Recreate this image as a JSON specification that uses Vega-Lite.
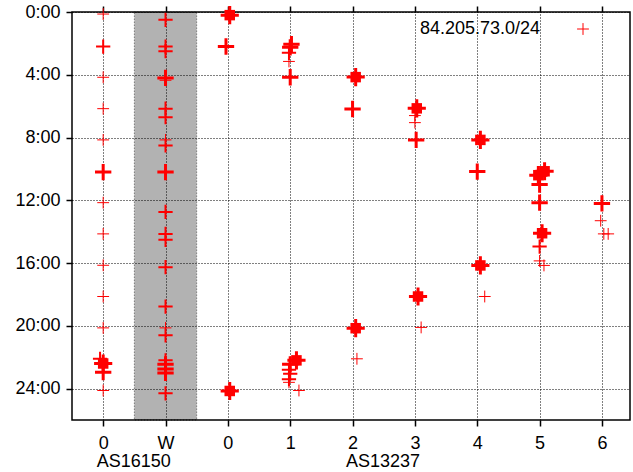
{
 "$schema": "https://vega.github.io/schema/vega-lite/v6.json",
 "width": 558, "height": 408,
 "autosize": "none",
 "padding": {"left": 72, "top": 12, "right": 3, "bottom": 52},
 "background": "#ffffff",
 "config": {
  "font": "Liberation Sans",
  "view": {"stroke": "#000", "strokeWidth": 1.5},
  "axis": {"labelFontSize": 18, "labelColor": "#000", "labelFont": "Liberation Sans", "tickColor": "#000", "tickWidth": 1.5, "tickSize": 6, "gridColor": "#000", "gridDash": [1, 2], "gridWidth": 1, "gridOpacity": 1, "domain": false, "title": null}
 },
 "datasets": {
  "pts": [
   {"col": 0, "hour": 0.13, "n": 1}, {"col": 0, "hour": 2.2, "n": 2}, {"col": 0, "hour": 4.16, "n": 1}, {"col": 0, "hour": 6.16, "n": 1}, {"col": 0, "hour": 8.15, "n": 1}, {"col": 0, "hour": 10.2, "n": 3}, {"col": 0, "hour": 12.15, "n": 1}, {"col": 0, "hour": 14.14, "n": 1}, {"col": 0, "hour": 16.14, "n": 1}, {"col": 0, "hour": 18.13, "n": 1}, {"col": 0, "hour": 20.13, "n": 1}, {"col": -0.05, "hour": 22.1, "n": 2}, {"col": 0, "hour": 22.4, "n": 4}, {"col": 0, "hour": 22.95, "n": 3}, {"col": 0, "hour": 24.12, "n": 1},
   {"col": 1, "hour": 0.5, "n": 2}, {"col": 1, "hour": 2.2, "n": 2}, {"col": 1, "hour": 2.5, "n": 2}, {"col": 1, "hour": 4.2, "n": 3}, {"col": 1, "hour": 4.35, "n": 1}, {"col": 1, "hour": 6.16, "n": 2}, {"col": 1, "hour": 6.7, "n": 2}, {"col": 1, "hour": 8.15, "n": 1}, {"col": 1, "hour": 8.5, "n": 2}, {"col": 1, "hour": 10.2, "n": 3}, {"col": 1, "hour": 12.74, "n": 2}, {"col": 1, "hour": 14.14, "n": 2}, {"col": 1, "hour": 14.52, "n": 2}, {"col": 1, "hour": 16.26, "n": 2}, {"col": 1, "hour": 18.77, "n": 2}, {"col": 1, "hour": 20.13, "n": 1}, {"col": 1, "hour": 20.6, "n": 2}, {"col": 1, "hour": 22.2, "n": 2}, {"col": 1, "hour": 22.45, "n": 3}, {"col": 1, "hour": 22.75, "n": 3}, {"col": 1, "hour": 23.0, "n": 3}, {"col": 1, "hour": 24.3, "n": 2},
   {"col": 2.03, "hour": 0.2, "n": 4}, {"col": 1.97, "hour": 2.2, "n": 3}, {"col": 2.03, "hour": 24.15, "n": 4},
   {"col": 3.02, "hour": 2.05, "n": 3}, {"col": 3.0, "hour": 2.25, "n": 3}, {"col": 2.98, "hour": 2.6, "n": 2}, {"col": 2.98, "hour": 3.15, "n": 1}, {"col": 3.0, "hour": 4.16, "n": 3}, {"col": 3.1, "hour": 22.2, "n": 4}, {"col": 3.0, "hour": 22.45, "n": 3}, {"col": 2.98, "hour": 22.8, "n": 2}, {"col": 3.0, "hour": 23.05, "n": 2}, {"col": 2.98, "hour": 23.4, "n": 2}, {"col": 2.98, "hour": 23.6, "n": 1}, {"col": 3.14, "hour": 24.12, "n": 1},
   {"col": 4.05, "hour": 4.15, "n": 4}, {"col": 4.0, "hour": 6.18, "n": 3}, {"col": 4.05, "hour": 20.15, "n": 4}, {"col": 4.07, "hour": 22.1, "n": 1},
   {"col": 5.03, "hour": 6.14, "n": 4}, {"col": 5.0, "hour": 6.6, "n": 1}, {"col": 5.0, "hour": 7.05, "n": 1}, {"col": 5.02, "hour": 8.15, "n": 3}, {"col": 5.05, "hour": 18.13, "n": 4}, {"col": 5.1, "hour": 20.1, "n": 1},
   {"col": 6.05, "hour": 8.15, "n": 4}, {"col": 6.0, "hour": 10.17, "n": 3}, {"col": 6.05, "hour": 16.15, "n": 4}, {"col": 6.12, "hour": 18.13, "n": 1},
   {"col": 7.08, "hour": 10.15, "n": 4}, {"col": 6.98, "hour": 10.4, "n": 4}, {"col": 7.0, "hour": 11.0, "n": 3}, {"col": 7.0, "hour": 12.15, "n": 3}, {"col": 7.04, "hour": 14.1, "n": 4}, {"col": 7.0, "hour": 14.95, "n": 2}, {"col": 7.0, "hour": 15.86, "n": 1}, {"col": 7.07, "hour": 16.15, "n": 1},
   {"col": 8.0, "hour": 12.2, "n": 3}, {"col": 7.98, "hour": 13.3, "n": 1}, {"col": 8.03, "hour": 14.14, "n": 1}, {"col": 8.1, "hour": 14.14, "n": 1}
  ]
 },
 "resolve": {"axis": {"x": "independent"}},
 "layer": [
  {
   "data": {"values": [{"a": 0.5, "b": 1.5}]},
   "mark": {"type": "rect", "fill": "#000", "fillOpacity": 0.3, "stroke": "#000", "strokeOpacity": 0.6, "strokeDash": [1, 2], "strokeWidth": 1},
   "encoding": {
    "x": {"field": "a", "type": "quantitative", "scale": {"domain": [-0.5, 8.45], "nice": false, "zero": false},
          "axis": {"orient": "top", "values": [0, 1, 2, 3, 4, 5, 6, 7, 8], "labels": false, "grid": false, "ticks": true}},
    "x2": {"field": "b"}
   }
  },
  {
   "data": {"name": "pts"},
   "mark": {"type": "point", "shape": "M-1,0H1M0,-1V1", "filled": false, "opacity": 1},
   "encoding": {
    "x": {"field": "col", "type": "quantitative", "scale": {"domain": [-0.5, 8.45], "nice": false, "zero": false},
          "axis": {"orient": "bottom", "values": [0, 1, 2, 3, 4, 5, 6, 7, 8], "grid": true, "labelOverlap": false, "labelFlush": false, "labelBound": false, "labelPadding": 8,
                   "labelExpr": "datum.value == 0 ? '0' : datum.value == 1 ? 'W' : '' + (datum.value - 2)"}},
    "y": {"field": "hour", "type": "quantitative", "scale": {"domain": [0, 26], "reverse": true, "nice": false, "zero": false},
          "axis": {"values": [0, 4, 8, 12, 16, 20, 24], "labelExpr": "datum.value + ':00'", "grid": true, "labelPadding": 6}},
    "stroke": {"datum": "84.205.73.0/24", "type": "nominal", "scale": {"range": ["#ff0000"]},
               "legend": {"orient": "none", "legendX": 502, "legendY": 8, "title": null, "symbolType": "M-1,0H1M0,-1V1", "symbolSize": 140, "symbolStrokeWidth": 1, "symbolFillColor": "transparent", "labelFontSize": 18, "labelColor": "#000", "labelAlign": "right", "labelOffset": -52, "padding": 0}},
    "strokeWidth": {"field": "n", "type": "quantitative", "scale": {"domain": [1, 3], "range": [1, 3], "clamp": true}, "legend": null},
    "size": {"field": "n", "type": "quantitative", "scale": {"domain": [1, 4], "range": [140, 330]}, "legend": null}
   }
  },
  {
   "data": {"name": "pts"},
   "transform": [{"filter": "datum.n == 4"}],
   "mark": {"type": "point", "shape": "square", "filled": true, "size": 110, "color": "#ff0000", "opacity": 1},
   "encoding": {
    "x": {"field": "col", "type": "quantitative",
          "axis": {"orient": "bottom", "offset": 32, "values": [0, 4], "ticks": false, "grid": false, "labelOverlap": false, "labelFlush": false, "labelBound": false, "labelPadding": 0, "labelAlign": "left", "labelOffset": -7,
                   "labelExpr": "datum.value == 0 ? 'AS16150' : 'AS13237'"}},
    "y": {"field": "hour", "type": "quantitative",
          "axis": {"values": [0, 4, 8, 12, 16, 20, 24], "labelExpr": "datum.value + ':00'", "grid": true, "labelPadding": 6}}
   }
  }
 ]
}
